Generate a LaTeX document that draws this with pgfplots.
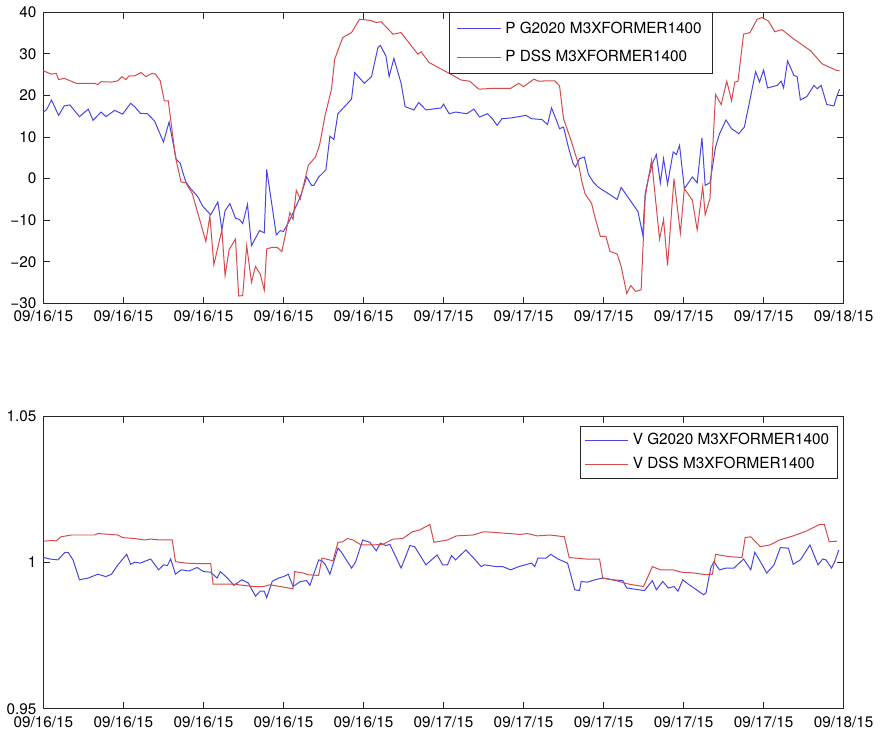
\documentclass[border=0pt]{standalone}
\usepackage{pgfplots}
\pgfplotsset{compat=1.18}
\usepackage{fontspec}
\setmainfont{TeX Gyre Heros}
\definecolor{mblue}{RGB}{70,70,225}
\definecolor{mred}{RGB}{212,75,75}

\pgfplotstableread{
x y
0 25.9
0.1 25.1
0.16 25.3
0.19 23.8
0.26 24.1
0.41 22.9
0.64 22.9
0.68 22.6
0.72 23.3
0.85 23.2
0.93 23.5
0.98 24.5
1.03 23.8
1.07 24.7
1.14 24.7
1.22 25.5
1.28 24.5
1.36 25.3
1.40 25.1
1.46 23.5
1.51 18.7
1.56 18.7
1.65 5.2
1.72 -0.8
1.78 -1.0
1.86 -3.6
2.03 -15.1
2.08 -9.0
2.13 -20.7
2.23 -12.3
2.27 -23.3
2.32 -17.1
2.40 -14.5
2.44 -28.2
2.49 -28.1
2.54 -16.1
2.60 -24.9
2.65 -21.1
2.71 -23.0
2.76 -26.8
2.79 -16.9
2.86 -16.5
2.92 -16.5
2.98 -17.5
3.08 -8.2
3.12 -9.8
3.16 -2.8
3.21 -4.9
3.31 3.2
3.40 5.2
3.45 8.0
3.52 15.2
3.60 21.5
3.64 28.7
3.74 33.9
3.85 35.1
3.95 38.3
4.09 38.0
4.16 37.5
4.22 37.7
4.37 34.7
4.47 35.1
4.55 33.1
4.68 29.9
4.72 30.5
4.82 27.9
5.07 25.3
5.22 23.7
5.33 23.4
5.44 21.5
5.63 21.7
5.84 21.7
5.94 22.9
6.00 22.1
6.13 23.9
6.19 23.4
6.28 23.5
6.39 23.5
6.45 22.3
6.50 14.4
6.60 8.8
6.69 3.2
6.73 -0.8
6.77 -3.7
6.85 -5.9
6.89 -9.1
6.96 -13.9
7.03 -13.9
7.08 -17.5
7.17 -18.1
7.22 -21.1
7.29 -27.6
7.34 -25.7
7.40 -27.1
7.47 -26.7
7.52 -4.4
7.60 4.4
7.70 -14.5
7.75 -9.8
7.80 -20.9
7.88 0.0
7.96 -13.1
8.01 -2.4
8.11 -5.2
8.17 -12.3
8.24 -1.9
8.27 -8.7
8.33 -4.8
8.40 20.2
8.47 17.8
8.54 23.4
8.60 18.7
8.64 23.2
8.68 23.4
8.75 34.7
8.83 35.1
8.92 38.3
8.98 38.7
9.06 37.9
9.14 35.3
9.23 35.8
9.38 33.5
9.42 33.0
9.59 30.7
9.73 27.6
9.90 26.1
9.95 25.9
}\pred

\pgfplotstableread{
x y
0 16.0
0.04 16.6
0.10 18.9
0.19 15.2
0.26 17.5
0.33 17.7
0.45 14.9
0.56 16.7
0.62 14.0
0.72 16.0
0.78 14.9
0.89 16.4
0.99 15.5
1.09 18.1
1.14 17.3
1.21 15.7
1.30 15.6
1.39 13.8
1.50 8.8
1.57 13.6
1.66 4.6
1.71 3.7
1.74 1.6
1.78 -0.8
1.84 -2.4
1.90 -3.7
1.93 -4.4
1.99 -6.6
2.09 -8.7
2.18 -5.6
2.23 -12.3
2.27 -7.7
2.33 -6.0
2.40 -9.5
2.45 -9.8
2.49 -10.8
2.55 -6.2
2.60 -16.1
2.70 -12.5
2.76 -13.0
2.79 2.2
2.91 -13.5
2.96 -12.5
3.00 -12.7
3.08 -9.9
3.21 -4.4
3.29 0.4
3.35 -1.6
3.38 -1.6
3.44 0.4
3.53 2.1
3.58 10.2
3.63 9.4
3.68 15.6
3.85 19.1
3.89 25.5
4.01 22.9
4.10 24.5
4.18 31.5
4.21 32.0
4.28 29.5
4.32 24.5
4.38 28.9
4.47 22.9
4.52 17.3
4.63 16.5
4.69 18.3
4.78 16.5
4.97 17.0
5.00 17.9
5.07 15.6
5.15 16.0
5.29 15.6
5.38 16.7
5.45 14.8
5.55 15.6
5.61 14.4
5.67 12.8
5.73 14.4
5.85 14.6
6.03 15.2
6.10 14.4
6.23 14.2
6.30 13.0
6.35 17.0
6.42 13.6
6.45 12.0
6.50 12.4
6.56 7.6
6.62 3.6
6.65 2.8
6.70 4.8
6.76 5.2
6.81 1.1
6.87 -0.8
6.93 -2.0
7.06 -3.6
7.17 -5.0
7.22 -2.1
7.30 -4.3
7.43 -7.9
7.49 -13.5
7.52 -3.6
7.56 0.0
7.61 3.6
7.66 5.8
7.71 -1.0
7.75 4.8
7.80 -1.3
7.87 6.4
7.91 5.8
7.95 8.0
8.01 -2.4
8.11 0.4
8.17 -1.0
8.23 9.8
8.27 -1.6
8.33 -1.0
8.40 7.6
8.45 10.8
8.53 14.1
8.60 12.0
8.69 10.8
8.76 12.4
8.82 18.0
8.90 25.7
8.95 23.2
9.00 26.1
9.05 21.8
9.17 22.4
9.22 23.4
9.25 21.8
9.30 28.3
9.38 24.8
9.42 24.5
9.46 18.9
9.54 19.7
9.63 22.4
9.67 21.6
9.72 22.4
9.79 17.8
9.88 17.5
9.91 19.5
9.95 21.5
}\pblue

\pgfplotstableread{
x y
0 1.0073
0.10 1.0075
0.16 1.0074
0.22 1.0088
0.35 1.0094
0.64 1.0094
0.68 1.0099
0.93 1.0094
0.99 1.0085
1.14 1.0082
1.26 1.0077
1.34 1.0080
1.46 1.0077
1.61 1.0077
1.65 1.0003
1.78 0.9998
1.96 0.9996
2.09 0.9996
2.12 0.9926
2.38 0.9926
2.62 0.9918
2.75 0.9918
2.83 0.9924
2.96 0.9918
3.12 0.9910
3.14 0.9969
3.25 0.9964
3.31 0.9958
3.44 0.9956
3.48 1.0015
3.62 1.0006
3.68 1.0069
3.74 1.0071
3.80 1.0082
3.87 1.0077
3.97 1.0060
4.12 1.0060
4.24 1.0062
4.37 1.0080
4.49 1.0082
4.61 1.0105
4.70 1.0111
4.83 1.0130
4.88 1.0069
5.05 1.0077
5.16 1.0091
5.37 1.0094
5.50 1.0105
5.63 1.0103
5.96 1.0096
6.05 1.0099
6.17 1.0091
6.33 1.0094
6.51 1.0088
6.57 1.0017
6.78 1.0012
6.95 1.0012
6.99 0.9947
7.16 0.9938
7.32 0.9926
7.50 0.9918
7.61 0.9986
7.71 0.9975
7.87 0.9975
7.97 0.9967
8.14 0.9964
8.28 0.9958
8.36 0.9960
8.40 1.0028
8.57 1.0020
8.73 1.0017
8.77 1.0085
8.84 1.0088
8.96 1.0054
9.08 1.0060
9.20 1.0077
9.37 1.0091
9.53 1.0107
9.70 1.0130
9.76 1.0130
9.82 1.0071
9.92 1.0073
}\vred

\pgfplotstableread{
x y
0 1.0017
0.08 1.0012
0.18 1.0009
0.27 1.0035
0.31 1.0034
0.37 1.0009
0.45 0.9941
0.56 0.9947
0.68 0.9960
0.78 0.9952
0.85 0.9960
0.93 0.9992
1.04 1.0028
1.09 0.9994
1.14 1.0001
1.21 0.9998
1.34 1.0012
1.44 0.9975
1.50 0.9992
1.55 0.9990
1.59 1.0012
1.65 0.9960
1.72 0.9975
1.82 0.9971
1.92 0.9983
2.00 0.9969
2.09 0.9967
2.17 0.9947
2.21 0.9969
2.30 0.9947
2.38 0.9922
2.48 0.9941
2.56 0.9930
2.65 0.9885
2.71 0.9902
2.76 0.9902
2.79 0.9880
2.86 0.9936
2.94 0.9947
3.00 0.9952
3.06 0.9960
3.12 0.9918
3.21 0.9935
3.29 0.9938
3.33 0.9922
3.44 1.0009
3.48 1.0006
3.52 0.9994
3.58 0.9960
3.68 1.0049
3.72 1.0037
3.85 0.9981
3.90 1.0001
3.99 1.0077
4.08 1.0069
4.16 1.0040
4.21 1.0066
4.28 1.0058
4.33 1.0062
4.47 0.9981
4.58 1.0058
4.64 1.0054
4.78 0.9992
4.92 1.0026
4.99 0.9992
5.05 0.9992
5.10 1.0024
5.15 1.0009
5.28 1.0043
5.37 1.0017
5.47 0.9986
5.51 0.9992
5.66 0.9986
5.74 0.9986
5.84 0.9975
5.94 0.9986
6.10 0.9998
6.14 0.9986
6.18 1.0015
6.28 1.0015
6.34 1.0028
6.43 1.0012
6.55 0.9998
6.59 0.9958
6.64 0.9907
6.70 0.9904
6.72 0.9935
6.80 0.9933
6.89 0.9941
6.99 0.9947
7.12 0.9941
7.24 0.9938
7.29 0.9913
7.51 0.9904
7.61 0.9938
7.66 0.9907
7.74 0.9935
7.81 0.9913
7.88 0.9918
7.93 0.9902
7.99 0.9941
8.06 0.9926
8.25 0.9890
8.28 0.9896
8.34 0.9981
8.38 1.0003
8.42 0.9986
8.45 0.9975
8.53 0.9981
8.63 0.9981
8.75 1.0012
8.84 0.9975
8.89 1.0035
8.96 1.0003
9.04 0.9964
9.13 0.9992
9.21 1.0051
9.31 1.0049
9.37 0.9994
9.46 1.0009
9.58 1.0060
9.68 0.9992
9.74 1.0012
9.78 1.0009
9.85 0.9981
9.89 1.0003
9.94 1.0043
}\vblue

\pgfplotsset{
  mstyle/.style={
    scale only axis, width=402.35pt,
    xmin=0, xmax=10, xtick={0,...,10},
    xticklabels={09/16/15,09/16/15,09/16/15,09/16/15,09/16/15,09/17/15,09/17/15,09/17/15,09/17/15,09/17/15,09/18/15},
    tick align=inside, major tick length=3.5pt,
    axis line style={line width=0.5pt, black!85},
    every tick/.style={black!85, line width=0.4pt},
    tick label style={font=\fontsize{7.7}{9}\selectfont},
    legend cell align=left,
    legend image code/.code={\draw[##1] (0pt,0pt) -- (22pt,0pt);},
    every axis plot/.append style={line width=0.5pt, no markers},
  }
}

\begin{document}
\begin{tikzpicture}
\path (-21pt,-12.15pt) rectangle (419pt,355.85pt);
\begin{axis}[mstyle, at={(0pt,203.85pt)}, anchor=south west, height=146.5pt,
  ymin=-30, ymax=40, ytick={-30,-20,-10,0,10,20,30,40},
  yticklabels={−30,−20,−10,0,10,20,30,40},
  legend style={at={(0.507,1)}, anchor=north west, draw=black!85, line width=0.5pt,
    font=\fontsize{7.7}{9}\selectfont, inner xsep=3.5pt, inner ysep=2.5pt, row sep=3pt},
]
\addplot[mblue] table {\pblue};
\addlegendentry{P G2020 M3XFORMER1400}
\addplot[mred] table {\pred};
\addlegendentry{P DSS M3XFORMER1400}
\end{axis}
\begin{axis}[mstyle, at={(0pt,0pt)}, anchor=south west, height=147.2pt,
  ymin=0.95, ymax=1.05, ytick={0.95,1,1.05},
  yticklabels={0.95,1,1.05},
  legend style={at={(0.9925,0.966)}, anchor=north east, draw=black!85, line width=0.5pt,
    font=\fontsize{7.7}{9}\selectfont, inner xsep=2pt, inner ysep=1.5pt, row sep=0.5pt},
]
\addplot[mblue] table {\vblue};
\addlegendentry{V G2020 M3XFORMER1400}
\addplot[mred] table {\vred};
\addlegendentry{V DSS M3XFORMER1400}
\end{axis}
\end{tikzpicture}
\end{document}
